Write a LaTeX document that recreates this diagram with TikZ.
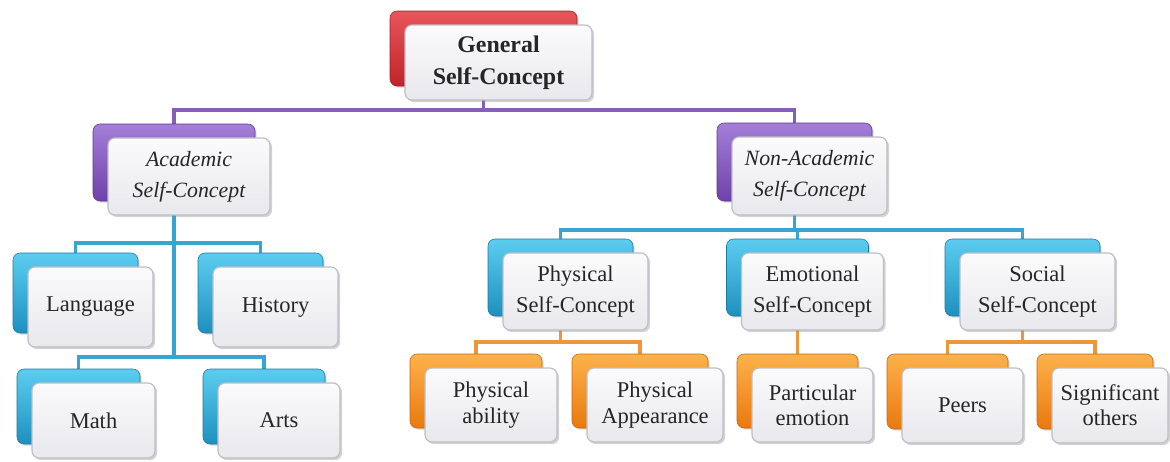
\documentclass[tikz,border=0pt]{standalone}
\usepackage{fontspec}
\setmainfont{Liberation Serif}
\usetikzlibrary{shadows,backgrounds,calc}

\definecolor{redA}{HTML}{E8555A}
\definecolor{redB}{HTML}{C0242B}
\definecolor{purpleA}{HTML}{A47ED8}
\definecolor{purpleB}{HTML}{6E42A8}
\definecolor{blueA}{HTML}{5CCDF0}
\definecolor{blueB}{HTML}{1E90BF}
\definecolor{orangeA}{HTML}{FDB24A}
\definecolor{orangeB}{HTML}{EA790E}
\definecolor{frontA}{HTML}{FBFBFC}
\definecolor{frontB}{HTML}{E8E8ED}
\definecolor{frontline}{HTML}{BDBDC5}
\definecolor{textgray}{HTML}{262626}
\definecolor{linepurple}{HTML}{8560BA}
\definecolor{lineblue}{HTML}{36A6D0}
\definecolor{lineorange}{HTML}{F0963A}

\tikzset{
  backbox/.style={rounded corners=5pt, top color=#1A, bottom color=#1B,
    draw=#1B!85!black, line width=0.4pt,
    drop shadow={shadow xshift=1.2pt, shadow yshift=-1.2pt, opacity=0.3}},
  frontbox/.style={rounded corners=5pt, top color=frontA, bottom color=frontB,
    draw=frontline, line width=0.8pt, align=center, text=textgray, inner sep=2pt,
    drop shadow={shadow xshift=1.5pt, shadow yshift=-1.5pt, opacity=0.35}},
  toptext/.style={font=\bfseries\fontsize{17}{23}\selectfont},
  ittext/.style={font=\itshape\fontsize{15.5}{22}\selectfont},
  midtext/.style={font=\fontsize{16}{22}\selectfont},
  leaftext/.style={font=\fontsize{16}{18}\selectfont},
  conn/.style={draw=#1, line width=2.6pt}
}

% \conceptbox[text style]{name}{cx}{cy}{width}{height}{colour}{text}
% draws a coloured back card and a pale front card offset down-right
\newcommand\conceptbox[8][]{%
  \node[backbox=#7, minimum width=#5*0.025cm, minimum height=#6*0.025cm]
    (#2-b) at ({#3-15},{#4-14}) {};
  \node[frontbox, #1, minimum width=#5*0.025cm, minimum height=#6*0.025cm]
    (#2) at (#3,#4) {#8};}

\begin{document}
\begin{tikzpicture}[x=0.025cm, y=-0.025cm]
\useasboundingbox (0,0) rectangle (1170,461);

\conceptbox[toptext]{gen}{498.5}{62.5}{187}{75}{red}{General\\Self-Concept}
\conceptbox[ittext]{acad}{189}{176.5}{162}{77}{purple}{Academic\\Self-Concept}
\conceptbox[ittext]{nonacad}{809.5}{176}{155}{78}{purple}{Non-Academic\\Self-Concept}

\conceptbox[leaftext]{lang}{90.5}{307}{125}{80}{blue}{Language}
\conceptbox[leaftext]{hist}{275.5}{307}{125}{80}{blue}{History}
\conceptbox[leaftext]{math}{93.5}{420.5}{123}{75}{blue}{Math}
\conceptbox[leaftext]{arts}{279}{420.5}{122}{75}{blue}{Arts}

\conceptbox[midtext]{phys}{575.5}{291.5}{145}{77}{blue}{Physical\\Self-Concept}
\conceptbox[midtext]{emo}{812.5}{291.5}{142}{77}{blue}{Emotional\\Self-Concept}
\conceptbox[midtext]{soc}{1037.5}{291.5}{155}{77}{blue}{Social\\Self-Concept}

\conceptbox[leaftext]{ability}{491}{405}{132}{74}{orange}{Physical\\ability}
\conceptbox[leaftext]{appear}{655}{405}{136}{74}{orange}{Physical\\Appearance}
\conceptbox[leaftext]{partic}{812.5}{405}{121}{74}{orange}{Particular\\emotion}
\conceptbox[leaftext]{peers}{962.5}{405.5}{121}{75}{orange}{Peers}
\conceptbox[leaftext]{signif}{1110}{405.5}{116}{75}{orange}{Significant\\others}

% levels of the horizontal bars
\coordinate (barTop) at (0,110);
\coordinate (barAcadA) at (0,243);
\coordinate (barAcadB) at (0,357);
\coordinate (barNon) at (0,230);
\coordinate (barLeaf) at (0,342);

\begin{pgfonlayer}{background}
  \draw[conn=linepurple] (gen-b.south) -- (gen-b.south |- barTop) -| (acad-b.north);
  \draw[conn=linepurple] (gen-b.south |- barTop) -| (nonacad-b.north);

  \draw[conn=lineblue] (acad-b.south) -- (acad-b.south |- barAcadB);
  \draw[conn=lineblue] (lang-b.north) |- (acad-b.south |- barAcadA) -| (hist-b.north);
  \draw[conn=lineblue] (math-b.north) |- (acad-b.south |- barAcadB) -| (arts-b.north);

  \draw[conn=lineblue] (nonacad-b.south) -- (nonacad-b.south |- barNon);
  \draw[conn=lineblue] (phys-b.north) |- (nonacad-b.south |- barNon) -| (soc-b.north);
  \draw[conn=lineblue] (emo-b.north |- barNon) -- (emo-b.north);

  \draw[conn=lineorange] (phys-b.south) -- (phys-b.south |- barLeaf);
  \draw[conn=lineorange] (ability-b.north) |- (phys-b.south |- barLeaf) -| (appear-b.north);
  \draw[conn=lineorange] (emo-b.south) -- (partic-b.north);
  \draw[conn=lineorange] (soc-b.south) -- (soc-b.south |- barLeaf);
  \draw[conn=lineorange] (peers-b.north) |- (soc-b.south |- barLeaf) -| (signif-b.north);
\end{pgfonlayer}
\end{tikzpicture}
\end{document}
